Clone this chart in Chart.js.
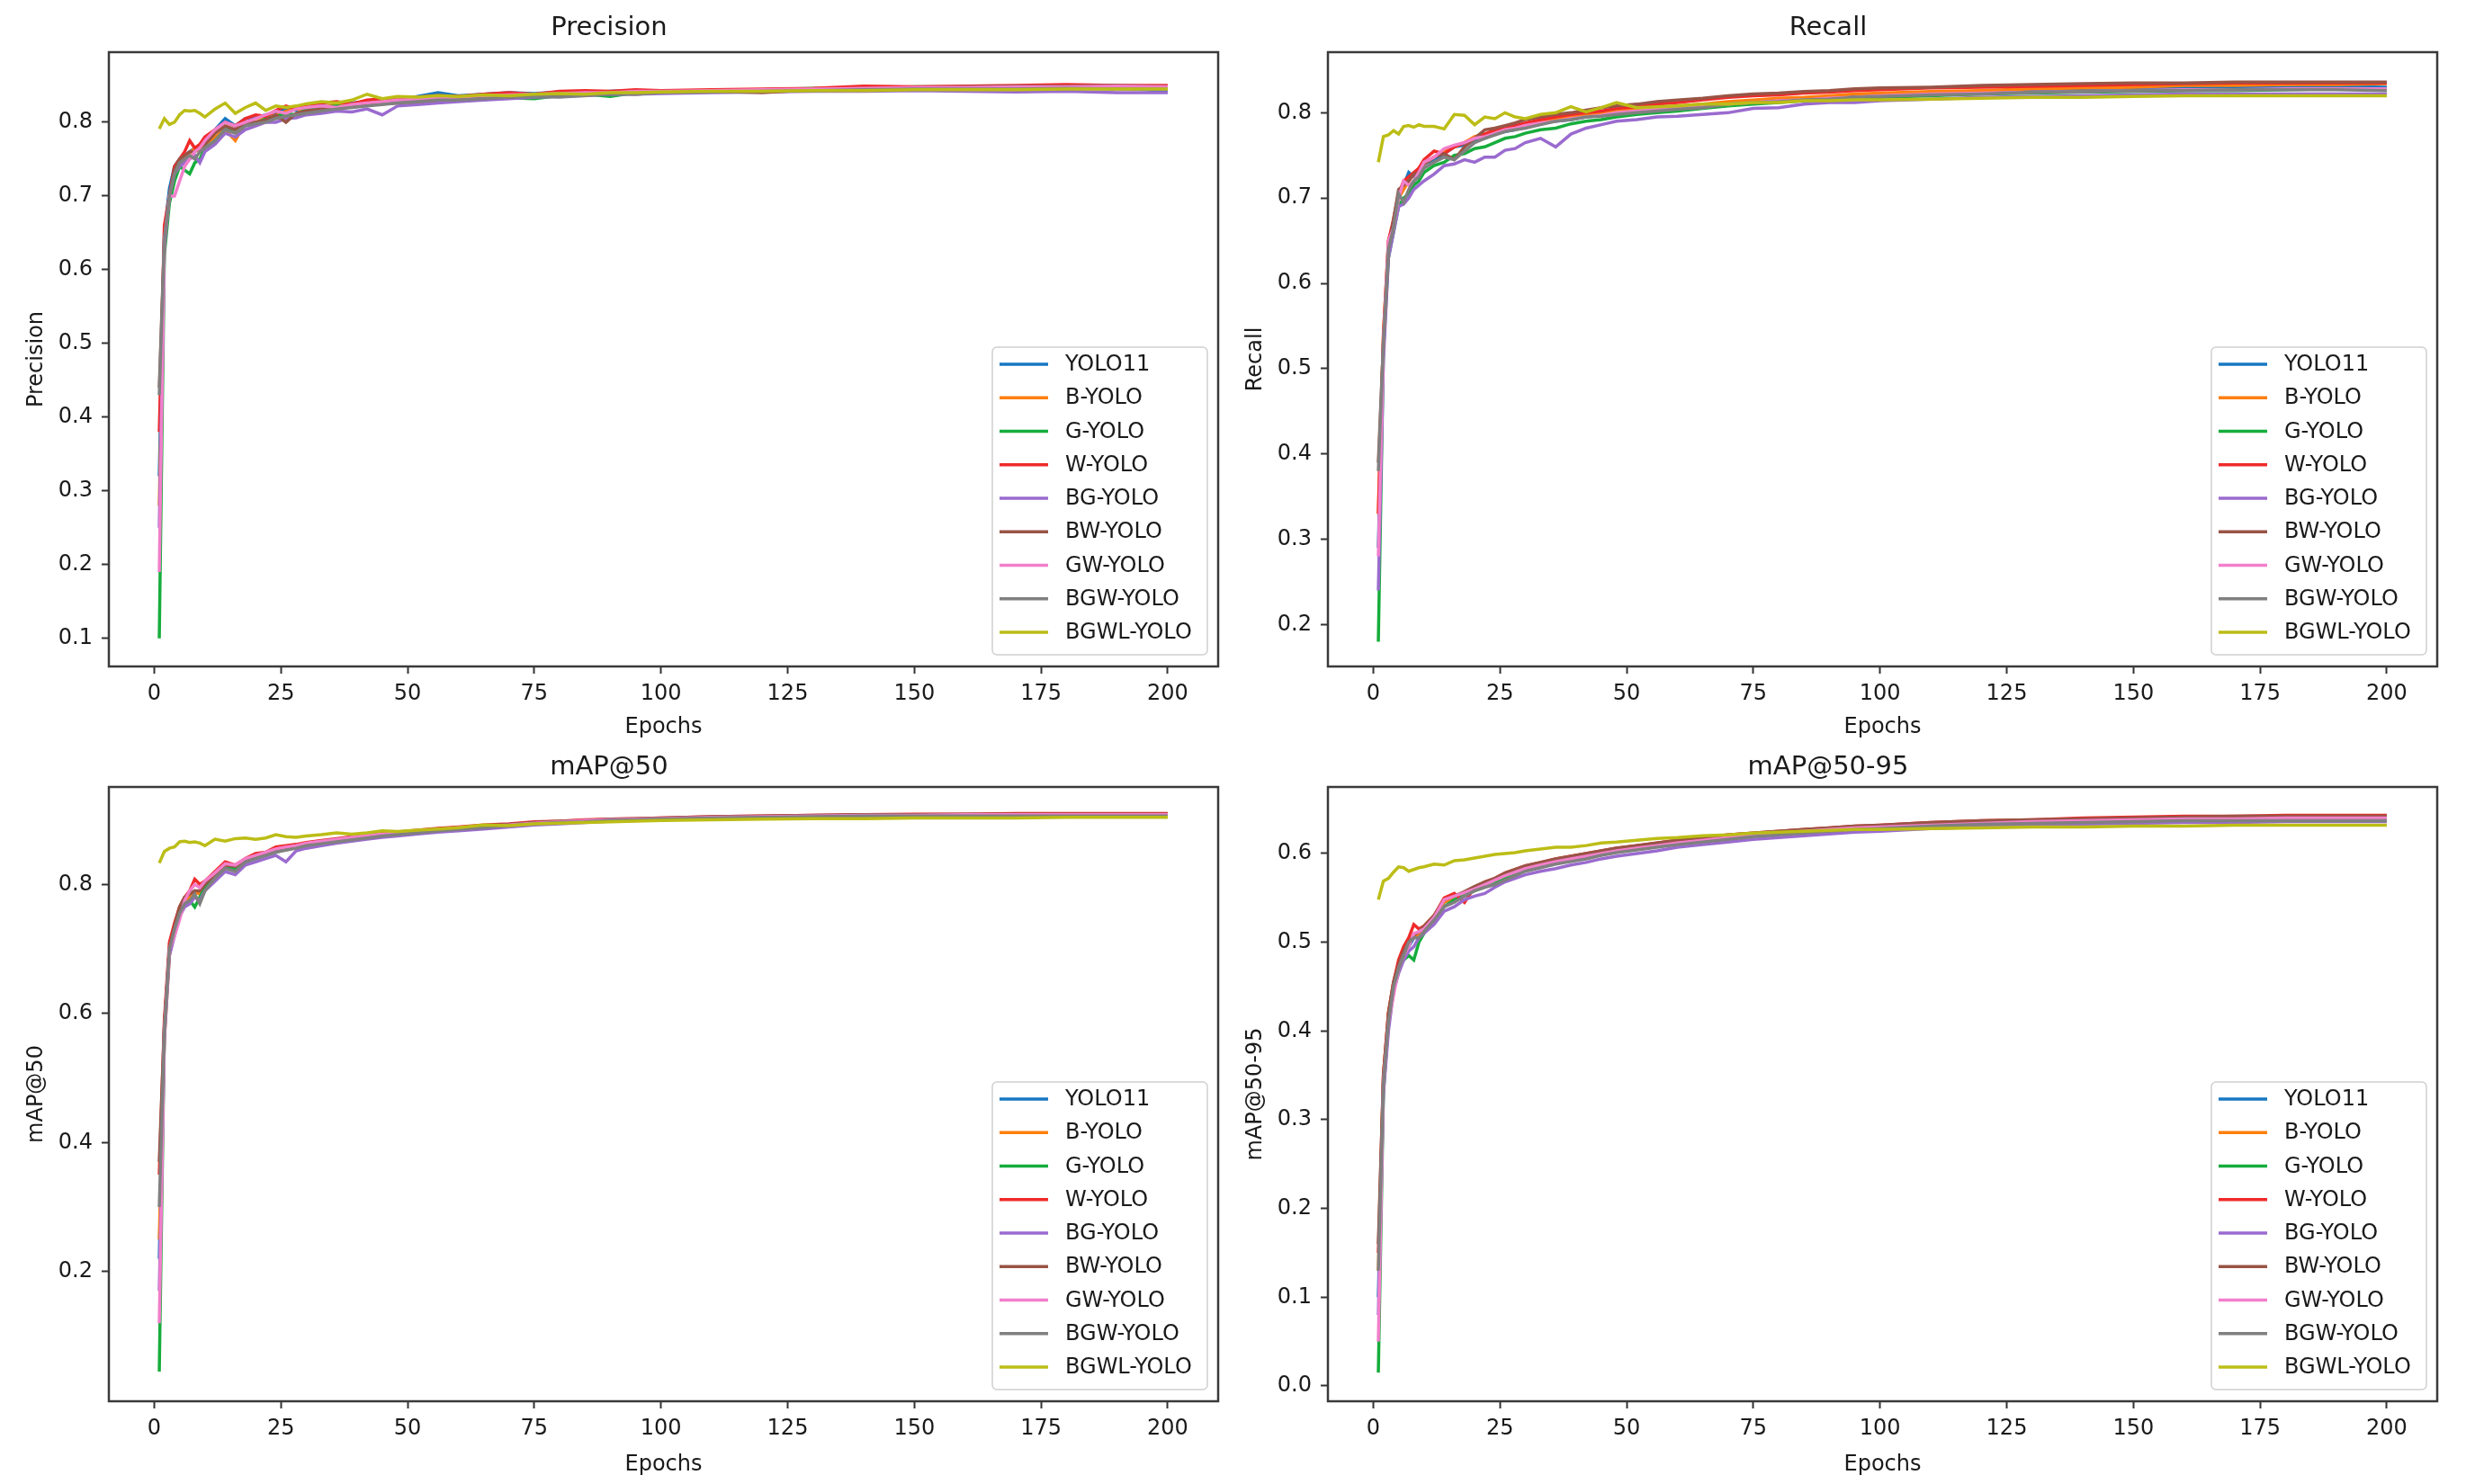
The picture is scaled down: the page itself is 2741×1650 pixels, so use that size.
<!DOCTYPE html>
<html>
<head>
<meta charset="utf-8">
<title>Training curves</title>
<script src="https://cdn.jsdelivr.net/npm/chart.js@4.4.1/dist/chart.umd.min.js"></script>
<style>
  html, body { margin: 0; padding: 0; background: #fff; }
  body { width: 2741px; height: 1650px; position: relative; overflow: hidden; }
  canvas { position: absolute; }
</style>
</head>
<body>
<canvas id="precisionChart" width="1370" height="830" style="left:0;top:0"></canvas>
<canvas id="recallChart" width="1386" height="830" style="left:1355px;top:0"></canvas>
<canvas id="map50Chart" width="1370" height="827" style="left:0;top:823px"></canvas>
<canvas id="map5095Chart" width="1386" height="827" style="left:1355px;top:823px"></canvas>
<script>
// sampled epochs
const epochs = [1,2,3,4,5,6,7,8,9,10,
  12,14,16,18,20,22,24,26,28,30,
  33,36,39,42,45,48,52,56,60,65,
  70,75,80,85,90,95,100,110,120,130,
  140,150,160,170,180,190,200];

const modelNames = ['YOLO11','B-YOLO','G-YOLO','W-YOLO','BG-YOLO','BW-YOLO','GW-YOLO','BGW-YOLO','BGWL-YOLO'];
const lineColors = ['#1778c2','#ff7f0e','#16ad3c','#f02a2a','#9a6bcf','#985446','#f27fcb','#808080','#bcbd16'];

const xTicks = [0,25,50,75,100,125,150,175,200];
const precisionTicks = [0.1,0.2,0.3,0.4,0.5,0.6,0.7,0.8];
const recallTicks = [0.2,0.3,0.4,0.5,0.6,0.7,0.8];
const map50Ticks = [0.2,0.4,0.6,0.8];
const map5095Ticks = [0.0,0.1,0.2,0.3,0.4,0.5,0.6];

// Precision
const pYOLO11 = [0.32,0.65,0.71,0.74,0.75,0.755,0.76,0.765,0.76,0.775,
  0.79,0.805,0.795,0.805,0.806,0.81,0.812,0.818,0.816,0.82,
  0.822,0.82,0.826,0.828,0.83,0.829,0.835,0.84,0.836,0.838,
  0.84,0.839,0.841,0.84,0.842,0.843,0.841,0.843,0.844,0.845,
  0.846,0.847,0.846,0.847,0.848,0.847,0.842];
const pB = [0.28,0.63,0.70,0.73,0.745,0.75,0.758,0.765,0.76,0.77,
  0.78,0.79,0.775,0.80,0.80,0.806,0.81,0.815,0.818,0.815,
  0.82,0.824,0.822,0.826,0.828,0.83,0.83,0.832,0.834,0.835,
  0.836,0.838,0.837,0.836,0.84,0.838,0.84,0.842,0.843,0.844,
  0.845,0.846,0.847,0.848,0.848,0.849,0.849];
const pG = [0.10,0.62,0.69,0.72,0.74,0.735,0.73,0.745,0.75,0.765,
  0.775,0.79,0.79,0.80,0.798,0.805,0.808,0.812,0.81,0.818,
  0.82,0.822,0.82,0.824,0.826,0.828,0.83,0.831,0.832,0.834,
  0.833,0.832,0.836,0.838,0.835,0.84,0.842,0.843,0.844,0.846,
  0.846,0.848,0.848,0.846,0.848,0.848,0.848];
const pW = [0.38,0.66,0.70,0.74,0.75,0.76,0.775,0.765,0.77,0.78,
  0.79,0.80,0.795,0.805,0.81,0.808,0.816,0.822,0.818,0.824,
  0.826,0.828,0.825,0.83,0.832,0.83,0.834,0.836,0.835,0.838,
  0.84,0.838,0.842,0.843,0.842,0.844,0.843,0.844,0.845,0.846,
  0.849,0.848,0.849,0.85,0.851,0.85,0.85];
const pBG = [0.25,0.63,0.70,0.73,0.74,0.745,0.75,0.755,0.745,0.76,
  0.77,0.785,0.78,0.79,0.795,0.80,0.80,0.805,0.806,0.81,
  0.812,0.815,0.814,0.818,0.81,0.822,0.824,0.826,0.828,0.83,
  0.832,0.834,0.835,0.836,0.838,0.838,0.839,0.84,0.841,0.842,
  0.842,0.843,0.842,0.841,0.842,0.84,0.84];
const pBW = [0.44,0.64,0.70,0.735,0.75,0.755,0.76,0.76,0.765,0.77,
  0.785,0.795,0.79,0.80,0.80,0.803,0.81,0.80,0.812,0.815,
  0.818,0.82,0.822,0.824,0.825,0.826,0.828,0.83,0.832,0.833,
  0.834,0.836,0.837,0.838,0.839,0.84,0.841,0.842,0.84,0.844,
  0.846,0.846,0.848,0.849,0.849,0.85,0.848];
const pGW = [0.19,0.64,0.70,0.70,0.72,0.74,0.75,0.76,0.765,0.775,
  0.79,0.80,0.795,0.80,0.805,0.81,0.815,0.812,0.818,0.82,
  0.822,0.82,0.824,0.826,0.828,0.83,0.831,0.833,0.834,0.836,
  0.837,0.838,0.839,0.84,0.84,0.842,0.842,0.843,0.844,0.845,
  0.846,0.847,0.847,0.848,0.848,0.849,0.848];
const pBGW = [0.43,0.64,0.70,0.73,0.745,0.75,0.755,0.75,0.76,0.765,
  0.775,0.79,0.785,0.795,0.798,0.80,0.805,0.808,0.81,0.812,
  0.815,0.818,0.82,0.822,0.824,0.826,0.828,0.83,0.83,0.832,
  0.834,0.835,0.834,0.836,0.838,0.838,0.84,0.841,0.842,0.843,
  0.844,0.845,0.845,0.845,0.846,0.845,0.845];
const pBGWL = [0.791,0.805,0.797,0.80,0.81,0.816,0.815,0.816,0.812,0.807,
  0.818,0.826,0.812,0.82,0.826,0.816,0.822,0.82,0.822,0.825,
  0.828,0.826,0.83,0.838,0.832,0.835,0.834,0.836,0.835,0.837,
  0.836,0.838,0.839,0.838,0.84,0.84,0.841,0.842,0.842,0.843,
  0.843,0.844,0.844,0.844,0.845,0.845,0.845];

// Recall
const rYOLO11 = [0.29,0.53,0.64,0.67,0.70,0.715,0.73,0.725,0.728,0.74,
  0.745,0.752,0.76,0.762,0.768,0.77,0.775,0.778,0.78,0.784,
  0.788,0.79,0.792,0.795,0.797,0.80,0.802,0.804,0.806,0.808,
  0.812,0.814,0.815,0.817,0.818,0.82,0.821,0.823,0.824,0.826,
  0.827,0.828,0.829,0.83,0.83,0.831,0.83];
const rB = [0.33,0.54,0.65,0.67,0.70,0.71,0.72,0.728,0.735,0.74,
  0.748,0.755,0.76,0.765,0.772,0.775,0.778,0.78,0.782,0.786,
  0.79,0.792,0.795,0.797,0.80,0.802,0.804,0.806,0.808,0.81,
  0.813,0.815,0.817,0.818,0.82,0.822,0.823,0.825,0.826,0.828,
  0.829,0.83,0.832,0.832,0.833,0.833,0.834];
const rG = [0.18,0.52,0.63,0.66,0.69,0.70,0.705,0.715,0.72,0.73,
  0.738,0.742,0.75,0.752,0.758,0.76,0.765,0.77,0.772,0.776,
  0.78,0.782,0.787,0.79,0.792,0.795,0.798,0.80,0.802,0.805,
  0.808,0.81,0.812,0.814,0.815,0.816,0.818,0.82,0.822,0.823,
  0.824,0.825,0.826,0.826,0.827,0.828,0.828];
const rW = [0.33,0.54,0.65,0.675,0.705,0.72,0.725,0.73,0.735,0.745,
  0.755,0.752,0.76,0.765,0.77,0.775,0.78,0.782,0.785,0.788,
  0.792,0.795,0.798,0.80,0.802,0.805,0.807,0.81,0.812,0.815,
  0.818,0.82,0.821,0.823,0.824,0.826,0.827,0.829,0.83,0.831,
  0.832,0.833,0.834,0.835,0.835,0.835,0.835];
const rBG = [0.24,0.51,0.63,0.66,0.69,0.693,0.70,0.71,0.715,0.72,
  0.728,0.738,0.74,0.745,0.742,0.748,0.748,0.756,0.758,0.765,
  0.77,0.76,0.775,0.782,0.786,0.79,0.792,0.795,0.796,0.798,
  0.80,0.805,0.806,0.81,0.812,0.812,0.814,0.816,0.818,0.819,
  0.82,0.821,0.822,0.822,0.822,0.822,0.822];
const rBW = [0.39,0.53,0.64,0.675,0.71,0.715,0.72,0.728,0.73,0.74,
  0.748,0.752,0.745,0.76,0.77,0.78,0.782,0.785,0.788,0.792,
  0.795,0.798,0.80,0.803,0.806,0.808,0.81,0.813,0.815,0.817,
  0.82,0.822,0.823,0.825,0.826,0.828,0.829,0.83,0.832,0.833,
  0.834,0.835,0.835,0.836,0.836,0.836,0.836];
const rGW = [0.28,0.53,0.65,0.665,0.70,0.72,0.715,0.72,0.73,0.742,
  0.748,0.758,0.762,0.765,0.77,0.772,0.776,0.78,0.782,0.785,
  0.788,0.79,0.793,0.795,0.797,0.80,0.802,0.804,0.806,0.808,
  0.81,0.812,0.814,0.815,0.817,0.818,0.82,0.822,0.823,0.824,
  0.825,0.826,0.827,0.827,0.828,0.828,0.828];
const rBGW = [0.38,0.53,0.64,0.665,0.705,0.695,0.71,0.72,0.725,0.735,
  0.742,0.748,0.745,0.755,0.765,0.77,0.774,0.778,0.78,0.782,
  0.786,0.79,0.792,0.795,0.796,0.798,0.80,0.802,0.804,0.806,
  0.81,0.812,0.813,0.815,0.816,0.818,0.819,0.821,0.822,0.824,
  0.825,0.826,0.826,0.827,0.827,0.827,0.826];
const rBGWL = [0.742,0.772,0.774,0.779,0.775,0.784,0.785,0.783,0.786,0.784,
  0.784,0.781,0.798,0.797,0.786,0.795,0.793,0.80,0.795,0.793,
  0.798,0.80,0.807,0.801,0.806,0.812,0.806,0.807,0.808,0.81,
  0.81,0.812,0.812,0.814,0.814,0.815,0.815,0.816,0.817,0.818,
  0.818,0.819,0.82,0.82,0.82,0.82,0.82];

// mAP@50
const m50YOLO11 = [0.22,0.58,0.70,0.73,0.76,0.775,0.785,0.79,0.785,0.80,
  0.815,0.83,0.828,0.838,0.845,0.848,0.853,0.856,0.86,0.862,
  0.866,0.869,0.872,0.875,0.877,0.879,0.882,0.884,0.887,0.89,
  0.892,0.895,0.897,0.898,0.9,0.901,0.902,0.904,0.905,0.906,
  0.907,0.907,0.908,0.908,0.908,0.908,0.908];
const m50B = [0.25,0.56,0.69,0.725,0.755,0.77,0.78,0.788,0.785,0.80,
  0.812,0.828,0.825,0.837,0.843,0.847,0.852,0.856,0.859,0.862,
  0.866,0.869,0.872,0.874,0.877,0.879,0.882,0.885,0.887,0.89,
  0.892,0.895,0.896,0.898,0.9,0.901,0.902,0.904,0.905,0.906,
  0.906,0.907,0.907,0.908,0.908,0.908,0.908];
const m50G = [0.045,0.57,0.70,0.73,0.75,0.77,0.775,0.765,0.78,0.795,
  0.81,0.825,0.825,0.835,0.84,0.845,0.85,0.855,0.858,0.862,
  0.865,0.868,0.871,0.874,0.876,0.879,0.881,0.884,0.886,0.889,
  0.891,0.894,0.896,0.897,0.899,0.9,0.901,0.903,0.904,0.905,
  0.906,0.906,0.907,0.907,0.907,0.907,0.907];
const m50W = [0.35,0.59,0.71,0.74,0.765,0.78,0.79,0.808,0.80,0.805,
  0.82,0.835,0.83,0.84,0.848,0.85,0.858,0.86,0.862,0.865,
  0.868,0.871,0.874,0.877,0.879,0.881,0.884,0.887,0.889,0.892,
  0.894,0.897,0.898,0.9,0.901,0.902,0.903,0.905,0.906,0.907,
  0.908,0.909,0.909,0.91,0.91,0.91,0.91];
const m50BG = [0.17,0.56,0.69,0.72,0.75,0.765,0.77,0.78,0.775,0.79,
  0.805,0.82,0.815,0.83,0.835,0.84,0.845,0.835,0.852,0.856,
  0.86,0.864,0.867,0.87,0.873,0.875,0.878,0.881,0.883,0.886,
  0.889,0.892,0.894,0.896,0.898,0.899,0.9,0.902,0.903,0.904,
  0.905,0.905,0.906,0.906,0.906,0.906,0.906];
const m50BW = [0.37,0.58,0.70,0.735,0.765,0.78,0.785,0.79,0.79,0.80,
  0.815,0.83,0.828,0.838,0.845,0.848,0.853,0.857,0.86,0.863,
  0.867,0.87,0.873,0.876,0.878,0.88,0.883,0.886,0.888,0.891,
  0.893,0.896,0.898,0.899,0.901,0.902,0.903,0.905,0.906,0.907,
  0.908,0.908,0.909,0.909,0.909,0.909,0.909];
const m50GW = [0.12,0.57,0.70,0.72,0.745,0.775,0.79,0.80,0.795,0.805,
  0.818,0.832,0.83,0.84,0.845,0.85,0.855,0.858,0.86,0.864,
  0.867,0.87,0.873,0.876,0.878,0.88,0.883,0.885,0.888,0.89,
  0.892,0.895,0.897,0.899,0.9,0.901,0.902,0.904,0.905,0.906,
  0.907,0.907,0.908,0.908,0.908,0.908,0.908];
const m50BGW = [0.30,0.57,0.70,0.73,0.755,0.77,0.775,0.785,0.77,0.79,
  0.81,0.825,0.82,0.835,0.84,0.845,0.85,0.853,0.856,0.86,
  0.863,0.866,0.869,0.872,0.875,0.877,0.88,0.883,0.885,0.888,
  0.891,0.894,0.896,0.897,0.899,0.9,0.901,0.903,0.904,0.905,
  0.906,0.906,0.906,0.906,0.906,0.906,0.906];
const m50BGWL = [0.833,0.851,0.856,0.858,0.866,0.867,0.865,0.866,0.864,0.860,
  0.870,0.867,0.871,0.872,0.870,0.872,0.877,0.874,0.873,0.875,
  0.877,0.88,0.878,0.88,0.883,0.882,0.884,0.886,0.888,0.892,
  0.891,0.894,0.895,0.896,0.897,0.898,0.899,0.9,0.901,0.902,
  0.902,0.903,0.903,0.903,0.904,0.904,0.904];

// mAP@50-95
const m95YOLO11 = [0.10,0.34,0.41,0.45,0.47,0.485,0.495,0.505,0.51,0.515,
  0.525,0.545,0.55,0.555,0.56,0.565,0.568,0.575,0.578,0.582,
  0.586,0.59,0.593,0.596,0.6,0.602,0.605,0.608,0.611,0.614,
  0.617,0.62,0.622,0.624,0.626,0.628,0.629,0.632,0.634,0.636,
  0.637,0.638,0.639,0.639,0.64,0.64,0.64];
const m95B = [0.13,0.35,0.42,0.455,0.475,0.49,0.5,0.505,0.51,0.518,
  0.53,0.545,0.55,0.555,0.562,0.567,0.571,0.577,0.58,0.584,
  0.588,0.592,0.595,0.598,0.601,0.604,0.607,0.61,0.613,0.616,
  0.619,0.622,0.624,0.626,0.628,0.629,0.631,0.633,0.635,0.637,
  0.638,0.639,0.64,0.641,0.641,0.642,0.642];
const m95G = [0.015,0.33,0.41,0.45,0.47,0.48,0.485,0.48,0.50,0.51,
  0.525,0.54,0.548,0.553,0.558,0.562,0.567,0.573,0.577,0.581,
  0.585,0.589,0.592,0.595,0.599,0.602,0.605,0.608,0.611,0.614,
  0.617,0.62,0.622,0.624,0.626,0.628,0.629,0.632,0.634,0.635,
  0.636,0.637,0.638,0.638,0.639,0.639,0.639];
const m95W = [0.15,0.35,0.42,0.455,0.48,0.495,0.505,0.52,0.515,0.518,
  0.53,0.55,0.555,0.545,0.562,0.568,0.572,0.578,0.582,0.586,
  0.59,0.594,0.597,0.6,0.603,0.606,0.609,0.612,0.615,0.618,
  0.621,0.623,0.625,0.627,0.629,0.631,0.632,0.635,0.637,0.638,
  0.64,0.641,0.642,0.642,0.643,0.643,0.643];
const m95BG = [0.08,0.33,0.40,0.445,0.465,0.48,0.49,0.495,0.505,0.51,
  0.52,0.535,0.54,0.548,0.552,0.555,0.562,0.568,0.572,0.576,
  0.58,0.583,0.587,0.59,0.594,0.597,0.6,0.603,0.607,0.61,
  0.613,0.616,0.618,0.62,0.622,0.624,0.625,0.628,0.63,0.632,
  0.633,0.634,0.635,0.635,0.636,0.636,0.636];
const m95BW = [0.16,0.35,0.42,0.455,0.475,0.49,0.5,0.508,0.512,0.518,
  0.53,0.548,0.552,0.557,0.563,0.568,0.572,0.578,0.582,0.586,
  0.59,0.594,0.597,0.6,0.603,0.606,0.609,0.612,0.615,0.618,
  0.621,0.623,0.625,0.627,0.629,0.631,0.632,0.635,0.637,0.638,
  0.639,0.64,0.641,0.642,0.642,0.642,0.642];
const m95GW = [0.05,0.34,0.41,0.44,0.47,0.485,0.495,0.51,0.512,0.515,
  0.528,0.548,0.552,0.556,0.56,0.565,0.57,0.575,0.579,0.583,
  0.587,0.591,0.594,0.597,0.6,0.603,0.606,0.609,0.612,0.615,
  0.618,0.621,0.623,0.625,0.627,0.629,0.63,0.632,0.634,0.636,
  0.637,0.638,0.639,0.639,0.64,0.64,0.64];
const m95BGW = [0.13,0.34,0.41,0.45,0.47,0.485,0.5,0.505,0.505,0.512,
  0.525,0.54,0.545,0.552,0.558,0.562,0.565,0.57,0.575,0.58,
  0.584,0.588,0.591,0.594,0.598,0.601,0.604,0.607,0.61,0.613,
  0.616,0.619,0.621,0.623,0.625,0.627,0.628,0.631,0.633,0.634,
  0.635,0.636,0.637,0.637,0.637,0.637,0.637];
const m95BGWL = [0.548,0.569,0.572,0.579,0.585,0.584,0.58,0.582,0.584,0.585,
  0.588,0.587,0.592,0.593,0.595,0.597,0.599,0.6,0.601,0.603,
  0.605,0.607,0.607,0.609,0.612,0.613,0.615,0.617,0.618,0.62,
  0.621,0.623,0.624,0.625,0.626,0.627,0.627,0.628,0.629,0.63,
  0.63,0.631,0.631,0.632,0.632,0.632,0.632];

const precisionSeries = [pYOLO11,pB,pG,pW,pBG,pBW,pGW,pBGW,pBGWL];
const recallSeries = [rYOLO11,rB,rG,rW,rBG,rBW,rGW,rBGW,rBGWL];
const map50Series = [m50YOLO11,m50B,m50G,m50W,m50BG,m50BW,m50GW,m50BGW,m50BGWL];
const map5095Series = [m95YOLO11,m95B,m95G,m95W,m95BG,m95BW,m95GW,m95BGW,m95BGWL];

Chart.defaults.font.family = "'DejaVu Sans', sans-serif";
Chart.defaults.color = '#1a1a1a';

// box around the plot, like the four spines
const framePlugin = {
  id: 'frame',
  afterDatasetsDraw(chart) {
    const a = chart.chartArea, ctx = chart.ctx;
    ctx.save();
    ctx.strokeStyle = '#3a3a3a';
    ctx.lineWidth = 2.5;
    ctx.strokeRect(a.left, a.top, a.right - a.left, a.bottom - a.top);
    ctx.restore();
  }
};

// legend inside the lower right corner
const boxLegend = {
  id: 'boxLegend',
  afterDraw(chart) {
    const a = chart.chartArea, ctx = chart.ctx;
    const w = 239, h = 342;
    const x = a.right - 12 - w, y = a.bottom - 13 - h;
    ctx.save();
    ctx.beginPath();
    ctx.roundRect(x, y, w, h, 5);
    ctx.fillStyle = 'rgba(255,255,255,0.85)';
    ctx.fill();
    ctx.strokeStyle = '#d0d0d0';
    ctx.lineWidth = 1.5;
    ctx.stroke();
    ctx.font = "24px 'DejaVu Sans'";
    ctx.textBaseline = 'middle';
    chart.data.datasets.forEach((ds, i) => {
      const cy = y + 19 + i * 37.25;
      ctx.strokeStyle = ds.borderColor;
      ctx.lineWidth = 3.5;
      ctx.beginPath();
      ctx.moveTo(x + 8, cy);
      ctx.lineTo(x + 62, cy);
      ctx.stroke();
      ctx.fillStyle = '#1a1a1a';
      ctx.fillText(ds.label, x + 81, cy + 1);
    });
    ctx.restore();
  }
};

function makeChart(id, title, yLabel, series, yMin, yMax, yTicks, titlePad, rightPad) {
  const datasets = series.map((vals, i) => ({
    label: modelNames[i],
    data: epochs.map((e, k) => ({ x: e, y: vals[k] })),
    borderColor: lineColors[i],
    backgroundColor: lineColors[i],
    borderWidth: 3.5,
    pointRadius: 0,
    tension: 0,
    order: series.length - i
  }));
  const xHeight = document.getElementById(id).height - (titlePad.top + titlePad.bottom + 34.8) - 683;
  return new Chart(document.getElementById(id), {
    type: 'line',
    data: { datasets },
    plugins: [framePlugin, boxLegend],
    options: {
      responsive: false,
      animation: false,
      devicePixelRatio: 1,
      layout: { padding: { left: 0, right: rightPad, top: 0, bottom: 0 } },
      plugins: {
        legend: { display: false },
        tooltip: { enabled: false },
        title: {
          display: true,
          text: title,
          color: '#1a1a1a',
          font: { size: 29, weight: 'normal' },
          padding: titlePad
        }
      },
      scales: {
        x: {
          type: 'linear',
          min: -8.95,
          max: 209.95,
          afterBuildTicks: s => { s.ticks = xTicks.map(v => ({ value: v })); },
          afterFit: s => { s.height = xHeight; },
          ticks: { font: { size: 24 }, padding: 8, maxRotation: 0, callback: v => String(v) },
          grid: { drawOnChartArea: false, drawTicks: true, tickLength: 8, tickWidth: 2, tickColor: '#333' },
          border: { display: false },
          title: { display: true, text: 'Epochs', font: { size: 24 }, padding: { top: 0, bottom: 7 } }
        },
        y: {
          min: yMin,
          max: yMax,
          afterBuildTicks: s => { s.ticks = yTicks.map(v => ({ value: v })); },
          afterFit: s => { s.width = 121; },
          ticks: { font: { size: 24 }, padding: 10, callback: v => v.toFixed(1) },
          grid: { drawOnChartArea: false, drawTicks: true, tickLength: 8, tickWidth: 2, tickColor: '#333' },
          border: { display: false },
          title: { display: true, text: yLabel, font: { size: 24 }, padding: { top: 26, bottom: 0 } }
        }
      }
    }
  });
}

makeChart('precisionChart', 'Precision', 'Precision', precisionSeries, 0.062, 0.895, precisionTicks, { top: 14, bottom: 9.2 }, 16);
makeChart('recallChart', 'Recall', 'Recall', recallSeries, 0.151, 0.871, recallTicks, { top: 14, bottom: 9.2 }, 32);
makeChart('map50Chart', 'mAP@50', 'mAP@50', map50Series, -0.001, 0.951, map50Ticks, { top: 13, bottom: 4.2 }, 16);
makeChart('map5095Chart', 'mAP@50-95', 'mAP@50-95', map5095Series, -0.0173, 0.675, map5095Ticks, { top: 13, bottom: 4.2 }, 32);
</script>
</body>
</html>
